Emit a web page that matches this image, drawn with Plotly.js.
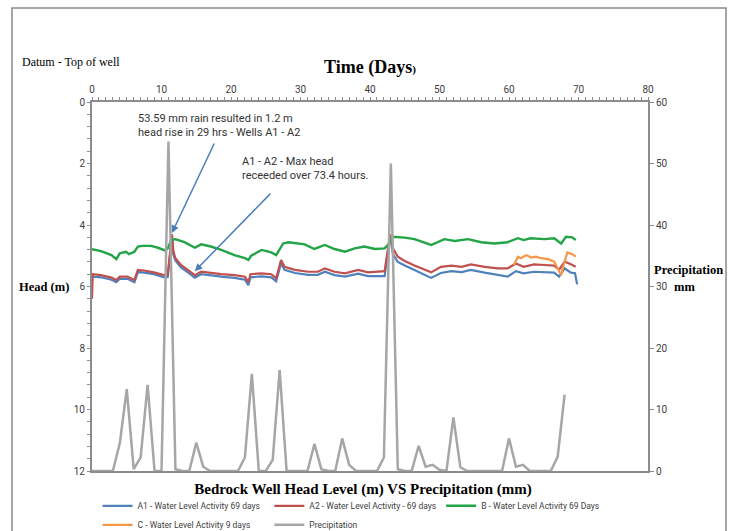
<!DOCTYPE html>
<html><head><meta charset="utf-8">
<script src="https://cdn.plot.ly/plotly-3.0.1.min.js"></script>
<style>html,body{margin:0;padding:0;background:#fff}#chart{width:734px;height:531px}</style>
</head><body><div id="chart"></div>
<script>
// Precipitation (mm), daily
const precipDays = [0,1,2,3,4,5,6,7,8,9,10,11,12,13,14,15,16,17,18,19,20,21,22,23,24,25,26,27,28,29,30,31,32,33,34,35,36,37,38,39,40,41,42,43,44,45,46,47,48,49,50,51,52,53,54,55,56,57,58,59,60,61,62,63,64,65,66,67,68];
const precipMm   = [0,0,0,0,4.5,13.3,0.3,2.2,14,0,0,53.59,0.3,0,0,4.6,0.7,0,0,0,0,0,2.2,15.8,0,0,1.8,16.4,0,0,0,0,4.4,0.3,0,0,5.3,1,0,0,0,0,2.2,50,0.3,0,0,4.1,0.7,1,0.2,0,8.7,0.6,0,0,0,0,0,0,5.3,0.7,1,0,0,0,0,2.3,12.4];

// A2 head (m)
const a2Days = [0,0.1,1.3,2.8,3.5,4.0,5.1,6.1,6.6,7.5,8.9,10.4,10.9,11.5,11.7,12.0,12.8,13.8,14.8,15.7,17.1,18.6,20.5,22.0,22.5,22.8,24.4,25.8,26.5,27.2,27.7,29.2,31.1,32.5,33.5,34.9,36.4,38.3,39.7,42.1,42.9,43.3,44.0,45.0,46.4,47.8,48.8,50.2,51.7,53.2,54.5,56.5,58.4,59.8,61.0,62.1,63.6,65.1,66.5,67.2,68.0,68.9,69.6];
const a2Head = [6.4,5.6,5.63,5.71,5.79,5.68,5.68,5.79,5.46,5.48,5.54,5.63,5.62,4.3,4.85,5.08,5.3,5.46,5.63,5.52,5.57,5.6,5.63,5.68,5.86,5.6,5.57,5.6,5.73,5.14,5.36,5.46,5.52,5.52,5.41,5.52,5.57,5.46,5.54,5.5,4.3,4.76,5.03,5.17,5.32,5.46,5.54,5.36,5.32,5.36,5.28,5.36,5.41,5.41,5.25,5.36,5.28,5.3,5.32,5.46,5.19,5.28,5.36];

// A1 head (m)
const a1Days = [0,1.3,2.8,3.5,4.0,5.1,6.1,6.6,7.5,8.9,10.4,10.9,11.5,11.7,12.0,12.8,13.8,14.8,15.7,17.1,18.6,20.5,22.0,22.5,22.8,24.4,25.8,26.5,27.2,27.7,29.2,31.1,32.5,33.5,34.9,36.4,38.3,39.7,42.1,42.9,43.3,44.0,45.0,46.4,47.8,48.8,50.2,51.7,53.2,54.5,56.5,58.4,59.8,61.0,62.1,63.6,65.1,66.5,67.2,68.0,68.9,69.5,69.8];
const a1Head = [5.68,5.7,5.78,5.86,5.75,5.75,5.86,5.53,5.55,5.6,5.7,5.69,4.35,4.95,5.15,5.38,5.54,5.71,5.6,5.65,5.68,5.72,5.78,5.96,5.7,5.67,5.7,5.83,5.24,5.46,5.56,5.62,5.62,5.52,5.63,5.68,5.58,5.66,5.66,4.35,4.95,5.2,5.32,5.46,5.62,5.72,5.56,5.5,5.53,5.46,5.55,5.62,5.68,5.5,5.57,5.52,5.54,5.55,5.68,5.41,5.55,5.57,5.93];

// B head (m)
const bDays = [0,1.3,2.8,3.5,4.0,4.9,5.3,6.1,6.6,7.3,8.5,9.5,10.4,10.9,11.4,12.0,13.3,14.8,15.7,17.1,18.6,20.5,22.0,22.5,22.9,24.4,25.8,26.5,27.5,28.3,30.6,32.0,33.5,34.9,36.4,37.8,39.2,40.7,42.1,42.8,43.3,45.0,46.4,48.8,50.7,52.2,54.1,56.0,57.9,59.8,61.3,62.1,63.1,65.1,66.5,67.5,68.2,69.1,69.6];
const bHead = [4.79,4.85,4.98,5.11,4.92,4.87,4.95,4.87,4.7,4.68,4.68,4.74,4.82,4.76,4.49,4.46,4.56,4.74,4.63,4.7,4.81,4.98,5.08,5.14,5.0,4.81,4.89,4.98,4.6,4.56,4.63,4.78,4.65,4.78,4.87,4.76,4.7,4.78,4.76,4.6,4.38,4.41,4.46,4.65,4.46,4.52,4.46,4.56,4.6,4.56,4.43,4.49,4.43,4.46,4.43,4.6,4.38,4.4,4.49];

// C head (m)
const cDays = [60.7,61.3,61.7,62.5,63.2,63.9,64.6,65.6,66.5,67.0,67.5,68.0,68.4,69.1,69.6];
const cHead = [5.3,5.03,5.08,4.98,5.06,5.03,5.08,5.11,5.19,5.41,5.63,5.19,4.89,4.95,5.03];

const seriesNames = ['A1 - Water Level Activity 69 days','A2 - Water Level Activity - 69 days','B - Water Level Activity 69 Days','C - Water Level Activity 9 days','Precipitation'];

const axisGrey = '#8c8c8c';
const tickFont = {family:'Roboto, sans-serif', size:10, color:'#404040'};

const traces = [
  {x:a1Days, y:a1Head, name:seriesNames[0], mode:'lines', line:{color:'#4f81bd', width:2.2}, xaxis:'x', yaxis:'y'},
  {x:a2Days, y:a2Head, name:seriesNames[1], mode:'lines', line:{color:'#c0504d', width:2.2}, xaxis:'x', yaxis:'y'},
  {x:bDays, y:bHead, name:seriesNames[2], mode:'lines', line:{color:'#22a447', width:2.4}, xaxis:'x', yaxis:'y'},
  {x:cDays, y:cHead, name:seriesNames[3], mode:'lines', line:{color:'#f79646', width:2.2}, xaxis:'x', yaxis:'y'},
  {x:precipDays, y:precipMm, name:seriesNames[4], mode:'lines', line:{color:'#a6a6a6', width:2.5}, xaxis:'x', yaxis:'y2'}
];

const layout = {
  width:734, height:531,
  margin:{l:92, r:86, t:102, b:60, autoexpand:false},
  paper_bgcolor:'#ffffff', plot_bgcolor:'#ffffff',
  title:{text:'<b>Bedrock Well Head Level (m) VS Precipitation (mm)</b>', font:{family:'Liberation Serif, serif', size:15, color:'#000'}, x:0.4946, xanchor:'center', y:0.079, yanchor:'middle'},
  xaxis:{side:'top', range:[0,80], tick0:0, dtick:10, showgrid:false, zeroline:false,
    showline:true, mirror:true, linecolor:axisGrey, linewidth:2,
    ticks:'outside', ticklen:3, tickcolor:axisGrey, tickwidth:1,
    minor:{dtick:1, ticks:'outside', ticklen:3, tickcolor:axisGrey},
    tickfont:tickFont,
    title:{text:'<b>Time (Days<span style="font-size:11px">)</span></b>', font:{family:'Liberation Serif, serif', size:18, color:'#000'}, standoff:6}},
  xaxis2:{overlaying:'x', side:'top', anchor:'y', range:[0,80], tick0:0, dtick:1, showgrid:false, zeroline:false,
    showline:false, ticks:'inside', ticklen:3, tickcolor:axisGrey, showticklabels:false},
  yaxis:{range:[12,0], tick0:0, dtick:2, showgrid:false, zeroline:false,
    showline:true, linecolor:axisGrey, linewidth:2,
    ticks:'outside', ticklen:3, tickcolor:axisGrey,
    minor:{dtick:0.4, ticks:'outside', ticklen:3, tickcolor:axisGrey},
    tickfont:tickFont},
  yaxis2:{overlaying:'y', side:'right', range:[0,60], tick0:0, dtick:10, showgrid:false, zeroline:false,
    showline:true, linecolor:axisGrey, linewidth:2,
    ticks:'outside', ticklen:4, tickcolor:axisGrey,
    tickfont:tickFont},
  yaxis3:{overlaying:'y', side:'left', anchor:'x', range:[12,0], tick0:0, dtick:0.4, showgrid:false, zeroline:false,
    showline:false, ticks:'inside', ticklen:3, tickcolor:axisGrey, showticklabels:false},
  showlegend:true,
  legend:{orientation:'h', x:0.01, xanchor:'left', y:-0.055, yanchor:'top',
    font:{family:'Roboto, sans-serif', size:8.5, color:'#404040'}, itemwidth:30, bgcolor:'rgba(0,0,0,0)', tracegroupgap:0},
  shapes:[
    {type:'rect', xref:'paper', yref:'paper', x0:-0.1439, x1:1.1403, y0:-0.2, y1:1.2547, line:{color:'#8a8a8a', width:1.5}, fillcolor:'rgba(0,0,0,0)', layer:'below'}
  ],
  annotations:[
    {xref:'paper', yref:'paper', x:-0.1295, y:1.109, xanchor:'left', yanchor:'middle', showarrow:false,
      text:'Datum - Top of well', font:{family:'Liberation Serif, serif', size:12, color:'#000'}},
    {xref:'paper', yref:'paper', x:-0.135, y:0.4986, xanchor:'left', yanchor:'middle', showarrow:false,
      text:'<b>Head (m)</b>', font:{family:'Liberation Serif, serif', size:12.5, color:'#000'}},
    {xref:'paper', yref:'paper', x:1.072, y:0.5447, xanchor:'center', yanchor:'middle', showarrow:false,
      text:'<b>Precipitation</b>', font:{family:'Liberation Serif, serif', size:12.5, color:'#000'}},
    {xref:'paper', yref:'paper', x:1.065, y:0.4986, xanchor:'center', yanchor:'middle', showarrow:false,
      text:'<b>mm</b>', font:{family:'Liberation Serif, serif', size:12.5, color:'#000'}},
    {xref:'x', yref:'y', x:6.3, y:0.75, xanchor:'left', yanchor:'middle', align:'left', showarrow:false,
      text:'53.59 mm rain resulted in 1.2 m<br>head rise in 29 hrs - Wells A1 - A2', font:{family:'Roboto, sans-serif', size:11, color:'#333'}},
    {xref:'x', yref:'y', x:21.3, y:2.15, xanchor:'left', yanchor:'middle', align:'left', showarrow:false,
      text:'A1 - A2 - Max head<br>receeded over 73.4 hours.', font:{family:'Roboto, sans-serif', size:11, color:'#333'}},
    {xref:'x', yref:'y', x:11.5, y:4.26, text:'', showarrow:true, arrowhead:2, arrowsize:1, arrowwidth:1.5, arrowcolor:'#4a7ebb', ax:43, ay:-91, standoff:0},
    {xref:'x', yref:'y', x:14.8, y:5.5, text:'', showarrow:true, arrowhead:2, arrowsize:1, arrowwidth:1.5, arrowcolor:'#4a7ebb', ax:77, ay:-79, standoff:0}
  ]
};

Plotly.newPlot('chart', traces, layout, {displayModeBar:false, staticPlot:true});
</script>
</body></html>
